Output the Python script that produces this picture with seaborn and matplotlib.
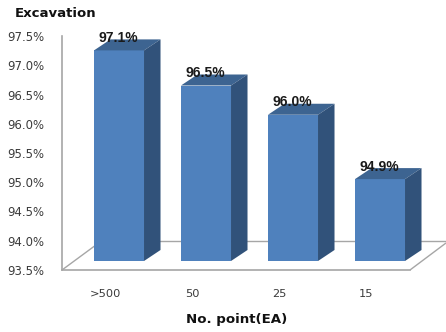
import matplotlib
matplotlib.use("Agg")
import matplotlib.pyplot as plt
import seaborn as sns
import pandas as pd
from matplotlib.patches import Polygon
from matplotlib.transforms import Affine2D
from matplotlib.ticker import FuncFormatter, MultipleLocator

categories = [">500", "50", "25", "15"]
values = [97.1, 96.5, 96.0, 94.9]
labels = ["97.1%", "96.5%", "96.0%", "94.9%"]
y_floor = 93.5
y_top = 97.5

FRONT = "#4F81BD"
TOP = "#3D6491"
SIDE = "#31527A"
FRAME = "#A6A6A6"
TEXT = "#3A3A3A"

sns.set_theme(style="white")
plt.rcParams["font.family"] = ["DejaVu Sans"]

W, H = 446, 332
fig = plt.figure(figsize=(W / 100, H / 100), dpi=100)
ax = fig.add_axes([62 / W, (H - 270) / H, 348 / W, 234 / H])

df = pd.DataFrame({"points": categories, "rate": values})
sns.barplot(data=df, x="points", y="rate", color=FRONT, saturation=1, width=0.575, ax=ax, zorder=3)
ax.set_xlim(-0.5, 3.5)
ax.set_ylim(y_floor, y_top)

# Front faces sit forward of the axis plane; depth runs up and to the right.
shift = Affine2D().translate(13.5, 9)
dx_depth = 16.5 / 87
dy_depth = 11 / 58.5
for patch, v, text in zip(ax.patches, values, labels):
    patch.set_y(y_floor)
    patch.set_height(v - y_floor)
    patch.set_transform(ax.transData + shift)
    patch.set_clip_on(False)
    patch.set_edgecolor("none")
    x0 = patch.get_x()
    x1 = x0 + patch.get_width()
    top = Polygon([(x0, v), (x1, v), (x1 + dx_depth, v + dy_depth), (x0 + dx_depth, v + dy_depth)],
                  closed=True, facecolor=TOP, edgecolor="none",
                  transform=ax.transData + shift, clip_on=False, zorder=3)
    side = Polygon([(x1, y_floor), (x1 + dx_depth, y_floor + dy_depth),
                    (x1 + dx_depth, v + dy_depth), (x1, v)],
                   closed=True, facecolor=SIDE, edgecolor="none",
                   transform=ax.transData + shift, clip_on=False, zorder=3)
    ax.add_patch(top)
    ax.add_patch(side)
    ax.annotate(text, xy=((x0 + x1) / 2, v), xycoords=ax.transData + shift,
                xytext=(-0.5, 9), textcoords="offset points", ha="center", va="center",
                fontsize=10, fontweight="bold", color="#1A1A1A",
                fontfamily="Liberation Sans", zorder=5, annotation_clip=False)

# Floor of the plot box: rear edge and the two receding sides.
floor_kw = dict(color=FRAME, lw=1.0, transform=ax.transAxes, clip_on=False, zorder=1, solid_capstyle="butt")
def ax_xy(px, py):
    return (px - 62) / 348, (270 - py) / 234
for p, q in [((98, 241), (446, 241)), ((62, 270), (100, 242)), ((410, 270), (446, 243))]:
    a, b = ax_xy(*p), ax_xy(*q)
    ax.plot([a[0], b[0]], [a[1], b[1]], **floor_kw)

sns.despine(ax=ax, top=True, right=True)
for side_name in ("left", "bottom"):
    ax.spines[side_name].set_color(FRAME)
    ax.spines[side_name].set_linewidth(1.2)

ax.yaxis.set_major_locator(MultipleLocator(0.5))
ax.yaxis.set_major_formatter(FuncFormatter(lambda v, _: f"{v:.1f}%"))
ax.tick_params(axis="y", length=0, pad=13, labelsize=8.4, labelcolor=TEXT)
ax.tick_params(axis="x", length=0, pad=13.5, labelsize=8.2, labelcolor=TEXT)
ax.set_xlabel("")
ax.set_ylabel("")

fig.text(15 / W, 1 - 13.5 / H, "Excavation", fontsize=9.5, fontweight="bold", color="#111111", va="center", ha="left")
fig.text(236.5 / W, 1 - 320 / H, "No. point(EA)", fontsize=9.6, fontweight="bold", color="#111111", va="center", ha="center")

fig.savefig("out.png", dpi=100, facecolor="white")
